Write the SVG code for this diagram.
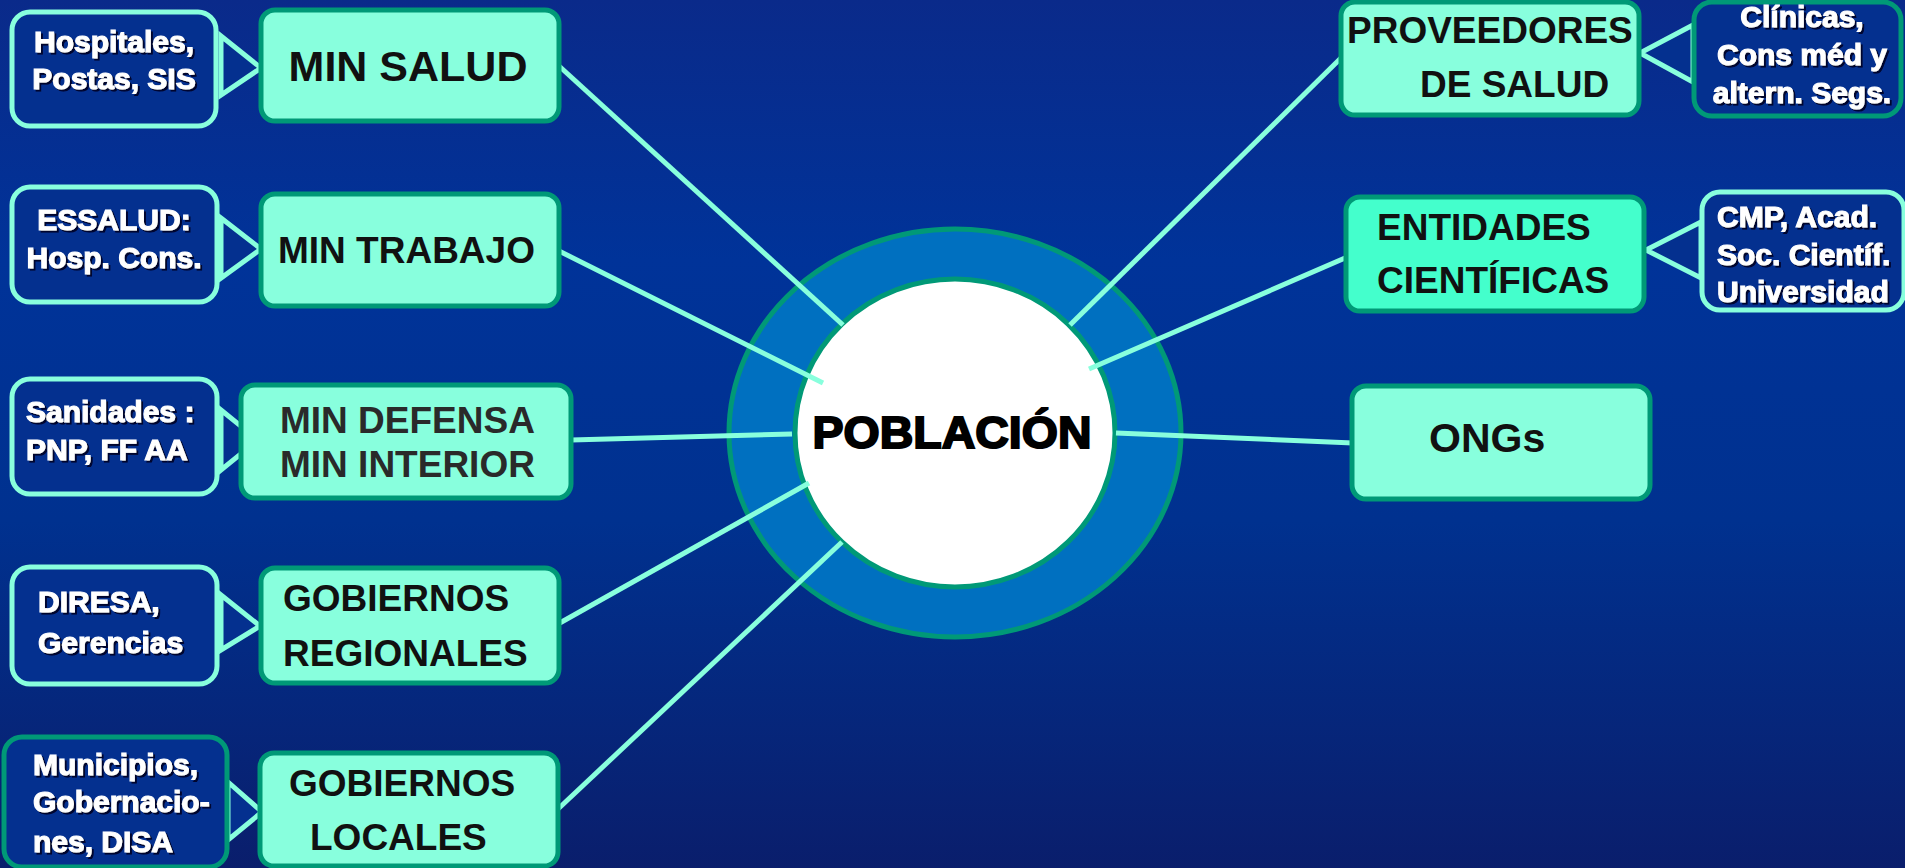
<svg xmlns="http://www.w3.org/2000/svg" width="1905" height="868" viewBox="0 0 1905 868">
<defs>
<linearGradient id="bg" x1="0" y1="0" x2="0" y2="1">
<stop offset="0" stop-color="#0a2a8a"/>
<stop offset="0.3" stop-color="#003399"/>
<stop offset="0.6" stop-color="#00318f"/>
<stop offset="1" stop-color="#0a1e6c"/>
</linearGradient>
<filter id="sh" x="-10%" y="-20%" width="130%" height="150%">
<feDropShadow dx="2" dy="2" stdDeviation="0.6" flood-color="#000020" flood-opacity="0.9"/>
</filter>
<style>
.mb{fill:#88ffdd;stroke:#009977;stroke-width:5}
.sb{fill:#04308f;stroke:#88ffdd;stroke-width:5}
.sbt{fill:#04308f;stroke:#009977;stroke-width:5}
.ptr{fill:#04308f;stroke:#88ffdd;stroke-width:5;stroke-linejoin:miter}
.con line{stroke:#88ffdd;stroke-width:5}
.w{font-family:"Liberation Sans",Arial,sans-serif;font-weight:bold;font-size:30px;fill:#fff;stroke:#fff;stroke-width:1.1;filter:url(#sh)}
.b{font-family:"Liberation Sans",Arial,sans-serif;font-weight:bold;font-size:37px;fill:#111}
.c{text-anchor:middle}
.big{font-size:43px}
.g{fill:#2a2a2a}
</style>
</defs>
<rect x="0" y="0" width="1905" height="868" fill="url(#bg)"/>

<g id="poblacion">
<ellipse cx="955" cy="433" rx="226" ry="204" fill="#0070c0" stroke="#009977" stroke-width="5"/>
<ellipse cx="955" cy="433" rx="160" ry="154" fill="#ffffff" stroke="#009977" stroke-width="5"/>
</g>

<g id="connectors" class="con">
<line x1="559" y1="66" x2="843" y2="325"/>
<line x1="559" y1="251" x2="823" y2="383"/>
<line x1="571" y1="440" x2="792" y2="434"/>
<line x1="558" y1="624" x2="809" y2="483"/>
<line x1="558" y1="809" x2="842" y2="542"/>
<line x1="1342" y1="57" x2="1070" y2="325"/>
<line x1="1352" y1="255" x2="1089" y2="369"/>
<line x1="1116" y1="433" x2="1353" y2="443"/>
</g>

<text x="952" y="448" text-anchor="middle" textLength="279" lengthAdjust="spacingAndGlyphs" font-family="'Liberation Sans',Arial,sans-serif" font-weight="bold" font-size="45" fill="#000" stroke="#000" stroke-width="2">POBLACIÓN</text>

<g id="hospitales">
<polygon class="ptr" points="221,36 261,68 221,95"/>
<rect class="sb" x="12" y="12" width="204" height="114" rx="18"/>
<text class="w c" x="114" y="52">Hospitales,</text>
<text class="w c" x="114" y="89">Postas, SIS</text>
</g>
<g id="essalud">
<polygon class="ptr" points="221,218 261,249 221,278"/>
<rect class="sb" x="12" y="187" width="205" height="115" rx="18"/>
<text class="w c" x="114" y="230">ESSALUD:</text>
<text class="w c" x="114" y="268">Hosp. Cons.</text>
</g>
<g id="sanidades">
<polygon class="ptr" points="221,410 258,440 221,470"/>
<rect class="sb" x="12" y="379" width="205" height="115" rx="18"/>
<text class="w" x="26" y="422">Sanidades :</text>
<text class="w" x="26" y="460">PNP, FF AA</text>
</g>
<g id="diresa">
<polygon class="ptr" points="221,595 260,626 221,650"/>
<rect class="sb" x="12" y="567" width="205" height="117" rx="18"/>
<text class="w" x="38" y="612">DIRESA,</text>
<text class="w" x="38" y="653">Gerencias</text>
</g>
<g id="municipios">
<polygon class="ptr" points="228,782 262,812 228,840"/>
<rect class="sbt" x="4" y="737" width="223" height="130" rx="18"/>
<text class="w" x="33" y="775">Municipios,</text>
<text class="w" x="33" y="812">Gobernacio-</text>
<text class="w" x="33" y="852">nes, DISA</text>
</g>
<g id="clinicas">
<polygon class="ptr" points="1693,25 1640,53 1693,82"/>
<rect class="sbt" x="1694" y="2" width="207" height="114" rx="18"/>
<text class="w c" x="1802" y="27">Clínicas,</text>
<text class="w c" x="1802" y="65">Cons méd y</text>
<text class="w c" x="1802" y="103">altern. Segs.</text>
</g>
<g id="cmp">
<polygon class="ptr" points="1701,222 1646,250 1701,278"/>
<rect class="sb" x="1702" y="192" width="202" height="118" rx="18"/>
<text class="w" x="1717" y="227">CMP, Acad.</text>
<text class="w" x="1717" y="265">Soc. Científ.</text>
<text class="w" x="1717" y="302">Universidad</text>
</g>

<g id="min-salud">
<rect class="mb" x="261" y="10" width="298" height="111" rx="14"/>
<text class="b c big" x="408" y="81">MIN SALUD</text>
</g>
<g id="min-trabajo">
<rect class="mb" x="261" y="194" width="298" height="112" rx="14"/>
<text class="b" x="278" y="263">MIN TRABAJO</text>
</g>
<g id="min-defensa">
<rect class="mb" x="241" y="385" width="330" height="113" rx="14"/>
<text class="b g" x="280" y="433">MIN DEFENSA</text>
<text class="b g" x="280" y="477">MIN INTERIOR</text>
</g>
<g id="gob-regionales">
<rect class="mb" x="261" y="568" width="298" height="115" rx="14"/>
<text class="b" x="283" y="611">GOBIERNOS</text>
<text class="b" x="283" y="666">REGIONALES</text>
</g>
<g id="gob-locales">
<rect class="mb" x="260" y="753" width="298" height="113" rx="14"/>
<text class="b" x="289" y="796">GOBIERNOS</text>
<text class="b" x="310" y="850">LOCALES</text>
</g>
<g id="proveedores">
<rect class="mb" x="1341" y="2" width="298" height="113" rx="14"/>
<text class="b" x="1347" y="43">PROVEEDORES</text>
<text class="b" x="1420" y="97">DE SALUD</text>
</g>
<g id="entidades">
<rect class="mb" x="1346" y="197" width="298" height="114" rx="14" style="fill:#44ffcc"/>
<text class="b" x="1377" y="240">ENTIDADES</text>
<text class="b" x="1377" y="293">CIENTÍFICAS</text>
</g>
<g id="ongs">
<rect class="mb" x="1352" y="386" width="298" height="113" rx="14"/>
<text class="b" x="1429" y="452" style="font-size:41px">ONGs</text>
</g>
</svg>
